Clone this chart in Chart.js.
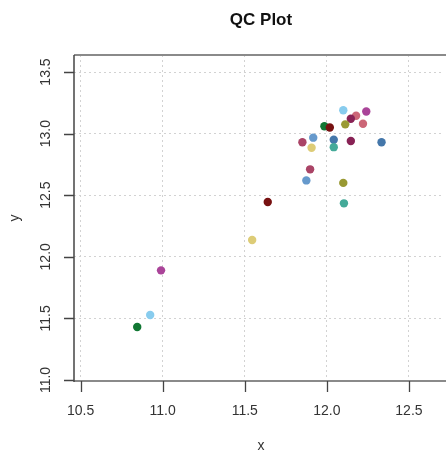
<!DOCTYPE html>
<html>
<head>
<meta charset="utf-8">
<script src="https://cdn.jsdelivr.net/npm/chart.js@4/dist/chart.umd.min.js"></script>
<style>
  html, body { margin: 0; padding: 0; background: #ffffff; overflow: hidden; }
  #wrap { width: 446px; height: 453px; }
</style>
</head>
<body>
<div id="wrap"><canvas id="c" width="446" height="453"></canvas></div>
<script>
// ---- data ----
const chartTitle = "QC Plot";
const xTitle = "x";
const yTitle = "y";
const xTicks = [10.5, 11.0, 11.5, 12.0, 12.5];
const yTicks = [11.0, 11.5, 12.0, 12.5, 13.0, 13.5];
const xValues = [10.845, 10.924, 10.99, 11.545, 11.64, 12.10, 12.24, 12.178, 12.146, 12.112, 12.22, 11.985, 12.018, 11.917, 11.851, 12.042, 12.042, 12.146, 12.333, 11.907, 11.898, 11.875, 12.10, 12.104];
const yValues = [11.43, 11.528, 11.89, 12.136, 12.445, 13.19, 13.18, 13.145, 13.12, 13.075, 13.08, 13.06, 13.05, 12.967, 12.93, 12.95, 12.89, 12.94, 12.93, 12.885, 12.71, 12.62, 12.60, 12.434];
const pointColors = ["#117733", "#88CCEE", "#AA4499", "#DDCC77", "#771111", "#88CCEE", "#AA4499", "#CC6677", "#882255", "#999933", "#CC6677", "#117733", "#771111", "#6699CC", "#AA4466", "#4477AA", "#44AA99", "#882255", "#4477AA", "#DDCC77", "#AA4466", "#6699CC", "#999933", "#44AA99"];
const xRange = [10.46, 12.70];
const yRange = [10.992, 13.638];

const points = xValues.map((x, i) => ({ x: x, y: yValues[i] }));

const FONT = "'Liberation Sans', Arial, sans-serif";
const TEXT = "#333333";

const decor = {
  id: "decor",
  afterDraw(chart) {
    const ctx = chart.ctx;
    const a = chart.chartArea;
    const xs = chart.scales.x, ys = chart.scales.y;
    ctx.save();
    // box: top and bottom gray
    ctx.strokeStyle = "#8a8a8a";
    ctx.lineWidth = 2;
    ctx.beginPath();
    ctx.moveTo(a.left, a.top); ctx.lineTo(chart.width, a.top);
    ctx.moveTo(a.left, a.bottom); ctx.lineTo(chart.width, a.bottom);
    ctx.stroke();
    // left axis line dark
    ctx.strokeStyle = "#444444";
    ctx.lineWidth = 1.5;
    ctx.beginPath();
    ctx.moveTo(a.left, a.top); ctx.lineTo(a.left, a.bottom + 1);
    ctx.stroke();
    // ticks
    ctx.strokeStyle = "#444444";
    ctx.lineWidth = 1.3;
    ctx.beginPath();
    xs.ticks.forEach(t => {
      const px = Math.round(xs.getPixelForValue(t.value)) + 0.5;
      ctx.moveTo(px, a.bottom); ctx.lineTo(px, a.bottom + 11);
    });
    ys.ticks.forEach(t => {
      const py = Math.round(ys.getPixelForValue(t.value)) + 0.5;
      ctx.moveTo(a.left - 10, py); ctx.lineTo(a.left, py);
    });
    ctx.stroke();
    // tick labels
    ctx.fillStyle = TEXT;
    ctx.font = "14px " + FONT;
    ctx.textAlign = "center";
    ctx.textBaseline = "middle";
    xs.ticks.forEach(t => {
      ctx.fillText(t.value.toFixed(1), xs.getPixelForValue(t.value), 411);
    });
    ys.ticks.forEach(t => {
      ctx.save();
      ctx.translate(46, ys.getPixelForValue(t.value));
      ctx.rotate(-Math.PI / 2);
      ctx.fillText(t.value.toFixed(1), 0, 0);
      ctx.restore();
    });
    // axis titles
    const cx = (a.left + 448) / 2;
    ctx.fillText(xTitle, cx, 446);
    ctx.save();
    ctx.translate(15, (a.top + a.bottom) / 2);
    ctx.rotate(-Math.PI / 2);
    ctx.fillText(yTitle, 0, 0);
    ctx.restore();
    // main title
    ctx.fillStyle = "#111111";
    ctx.font = "bold 17px " + FONT;
    ctx.fillText(chartTitle, cx, 20);
    ctx.restore();
  }
};

new Chart(document.getElementById("c"), {
  type: "scatter",
  data: {
    datasets: [{
      data: points,
      backgroundColor: pointColors,
      borderColor: pointColors,
      borderWidth: 0,
      pointRadius: 4.2,
      pointHoverRadius: 4.2
    }]
  },
  options: {
    responsive: false,
    animation: false,
    devicePixelRatio: 1,
    layout: { padding: { top: 55, right: 0, left: 0, bottom: 0 } },
    plugins: { legend: { display: false }, tooltip: { enabled: false }, title: { display: false } },
    scales: {
      x: {
        type: "linear",
        min: xRange[0], max: xRange[1],
        afterBuildTicks: s => { s.ticks = xTicks.map(v => ({ value: v })); },
        afterFit: s => { s.height = 72; },
        ticks: { display: false },
        grid: { color: "#d2d2d2", lineWidth: 1, drawTicks: false },
        border: { display: false, dash: [2, 3] }
      },
      y: {
        type: "linear",
        min: yRange[0], max: yRange[1],
        afterBuildTicks: s => { s.ticks = yTicks.map(v => ({ value: v })); },
        afterFit: s => { s.width = 74; },
        ticks: { display: false },
        grid: { color: "#d2d2d2", lineWidth: 1, drawTicks: false },
        border: { display: false, dash: [2, 3] }
      }
    }
  },
  plugins: [decor]
});
</script>
</body>
</html>
